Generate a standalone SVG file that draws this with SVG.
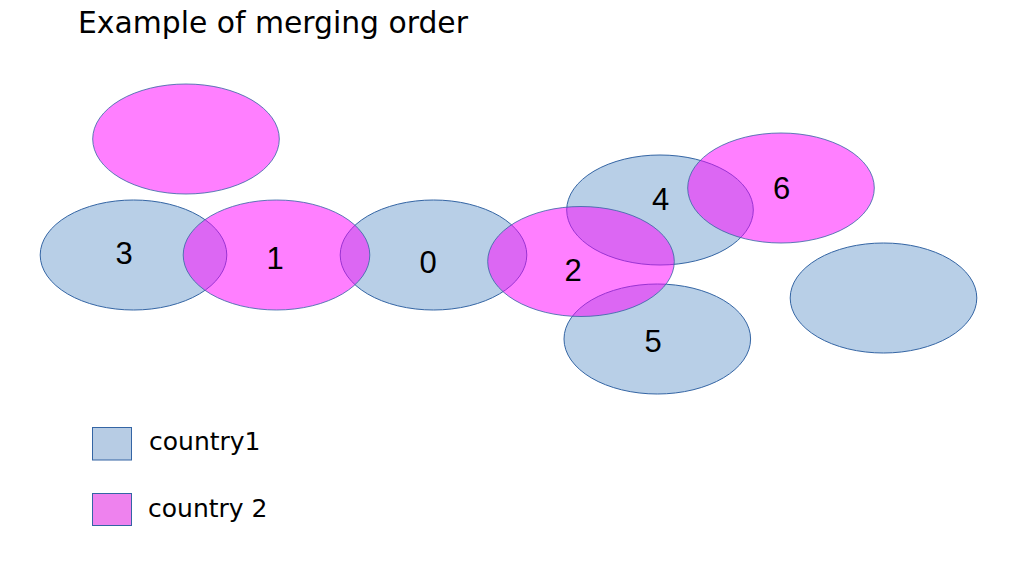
<svg xmlns="http://www.w3.org/2000/svg" width="1029" height="564" viewBox="0 0 1029 564">
<style>
.c1{fill:#729fcf;fill-opacity:0.5;stroke:#3465a4;stroke-width:1}
.c2{fill:#ff00ff;fill-opacity:0.5;stroke:#3465a4;stroke-opacity:0.8;stroke-width:1}
.lbl{font-family:"Liberation Sans",Arial,sans-serif;font-size:31px;fill:#000;text-anchor:middle}
.txt{font-family:"DejaVu Sans",sans-serif;fill:#000}
</style>
<rect width="1029" height="564" fill="#fff"/>
<text class="txt" x="78" y="33" font-size="29.8">Example of merging order</text>
<g id="connectors"/>
<g id="n3"><ellipse class="c1" cx="133.5" cy="255" rx="93.3" ry="55"/><text class="lbl" x="124" y="264">3</text></g>
<g id="n0"><ellipse class="c1" cx="433.5" cy="255" rx="93.3" ry="55"/><text class="lbl" x="428" y="273">0</text></g>
<g id="n4"><ellipse class="c1" cx="660" cy="210" rx="93.3" ry="55"/><text class="lbl" x="660.5" y="210">4</text></g>
<g id="n5"><ellipse class="c1" cx="657.3" cy="339" rx="93.3" ry="55"/><text class="lbl" x="653" y="352">5</text></g>
<g id="n7"><ellipse class="c1" cx="883.5" cy="298" rx="93.3" ry="55"/></g>
<g id="n8"><ellipse class="c2" cx="186" cy="139" rx="93.3" ry="55"/></g>
<g id="n1"><ellipse class="c2" cx="276.5" cy="255" rx="93.3" ry="55"/><text class="lbl" x="275" y="269">1</text></g>
<g id="n2"><ellipse class="c2" cx="581" cy="261.5" rx="93.3" ry="55"/><text class="lbl" x="573" y="280.5">2</text></g>
<g id="n6"><ellipse class="c2" cx="781" cy="188" rx="93.3" ry="55"/><text class="lbl" x="781.5" y="199">6</text></g>
<g id="legend">
<rect x="92.5" y="427.5" width="39" height="32.5" fill="#b7cce4" stroke="#3465a4"/>
<text class="txt" x="149" y="450" font-size="25">country1</text>
<rect x="92.5" y="493.5" width="39" height="32" fill="#ee82ee" stroke="#3465a4"/>
<text class="txt" x="148" y="517" font-size="25">country 2</text>
</g>
</svg>
